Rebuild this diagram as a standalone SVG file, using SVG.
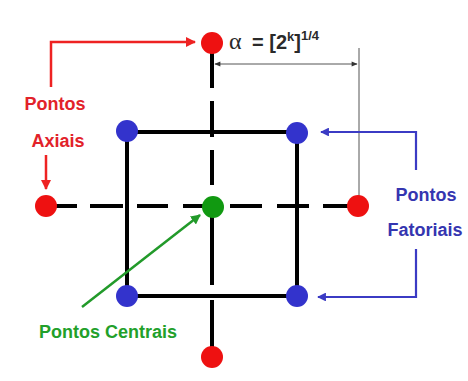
<svg xmlns="http://www.w3.org/2000/svg" width="468" height="381" viewBox="0 0 468 381">
<defs>
<style>
.axis{fill:none;stroke:#000;stroke-width:4}
.sq{fill:none;stroke:#000;stroke-width:4}
.red{fill:#ee1111}
.blue{fill:#3333cc}
.green{fill:#119911}
.ra{fill:none;stroke:#ee2222;stroke-width:2.5}
.ba{fill:none;stroke:#3b3bc4;stroke-width:2.2}
.ga{fill:none;stroke:#229a2a;stroke-width:2.5}
.dim{fill:none;stroke:#555;stroke-width:1}
.lbl{font-family:"Liberation Sans",Arial,sans-serif;font-weight:bold;font-size:18px;text-anchor:middle}
.tr{fill:#e2222a}
.tb{fill:#3535b0}
.tg{fill:#22a02a}
.eq{font-family:"Liberation Sans",Arial,sans-serif;font-weight:bold;font-size:20px;fill:#2a2a2a}
</style>
<marker id="mr" viewBox="0 0 10 10" refX="9" refY="5" markerWidth="4" markerHeight="4" orient="auto-start-reverse" markerUnits="strokeWidth"><path d="M0 0L10 5L0 10z" fill="#ee2222"/></marker>
<marker id="mb" viewBox="0 0 10 10" refX="9" refY="5" markerWidth="4" markerHeight="4" orient="auto-start-reverse" markerUnits="strokeWidth"><path d="M0 0L10 5L0 10z" fill="#3b3bc4"/></marker>
<marker id="mg" viewBox="0 0 10 10" refX="9" refY="5" markerWidth="4" markerHeight="4" orient="auto-start-reverse" markerUnits="strokeWidth"><path d="M0 0L10 5L0 10z" fill="#229a2a"/></marker>
<marker id="md" viewBox="0 0 10 10" refX="9" refY="5" markerWidth="7" markerHeight="6" orient="auto-start-reverse" markerUnits="strokeWidth"><path d="M0 1L10 5L0 9z" fill="#333"/></marker>
</defs>
<rect width="468" height="381" fill="#ffffff"/>
<g id="connectors">
<path class="axis" d="M212 43V88M212 101V137M212 150V185M212 198V285M212 300V334M212 334V357"/>
<path class="axis" d="M46 206H77M90 206H123M137 206H168M183 206H213M230 206H262M277 206H309M323 206H358"/>
<path class="sq" d="M127 132H297V296H127Z"/>
<path class="dim" d="M215 64H357"  marker-start="url(#md)" marker-end="url(#md)"/>
<path class="dim" d="M359 48V196"/>
<path class="ra" d="M51 87V42H195" marker-end="url(#mr)"/>
<path class="ra" d="M46 155V189" marker-end="url(#mr)"/>
<path class="ba" d="M416 170V132H321" marker-end="url(#mb)"/>
<path class="ba" d="M416 249V297H318" marker-end="url(#mb)"/>
<path class="ga" d="M82 307L200 215" marker-end="url(#mg)"/>
</g>
<g id="axial-top"><circle class="red" cx="212" cy="43" r="11"/></g>
<g id="axial-left"><circle class="red" cx="46" cy="206" r="11"/></g>
<g id="axial-right"><circle class="red" cx="358" cy="206" r="11"/></g>
<g id="axial-bottom"><circle class="red" cx="212" cy="357" r="11"/></g>
<g id="fact-tl"><circle class="blue" cx="127" cy="131" r="11"/></g>
<g id="fact-tr"><circle class="blue" cx="297" cy="133" r="11"/></g>
<g id="fact-bl"><circle class="blue" cx="127" cy="296" r="11"/></g>
<g id="fact-br"><circle class="blue" cx="297" cy="296" r="11"/></g>
<g id="center"><circle class="green" cx="213" cy="207" r="11"/></g>
<g id="label-axiais">
<text class="lbl tr" x="55" y="110">Pontos</text>
<text class="lbl tr" x="58" y="147">Axiais</text>
</g>
<g id="label-fatoriais">
<text class="lbl tb" x="426" y="201">Pontos</text>
<text class="lbl tb" x="425" y="236">Fatoriais</text>
</g>
<g id="label-centrais">
<text class="lbl tg" x="108" y="338">Pontos Centrais</text>
</g>
<g id="label-alpha">
<text class="eq" x="229" y="49"><tspan font-family="'Liberation Serif',serif" font-weight="normal" font-size="24">α</tspan><tspan x="252">= [2</tspan><tspan font-size="13" dy="-8">k</tspan><tspan dy="8">]</tspan><tspan font-size="13" dy="-9">1/4</tspan></text>
</g>
</svg>
